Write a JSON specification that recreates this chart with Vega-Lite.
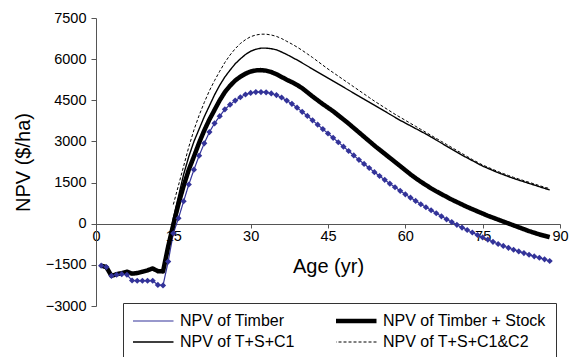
{
"$schema":"https://vega.github.io/schema/vega-lite/v6.json",
"width":464,"height":288,
"autosize":{"type":"none"},
"padding":{"left":96,"top":18,"right":9,"bottom":51},
"background":"white",
"config":{"view":{"stroke":null},"font":"Liberation Sans"},
"data":{"values":[
{"age":1,"series":"NPV of Timber","npv":-1530},{"age":2,"series":"NPV of Timber","npv":-1580},{"age":3,"series":"NPV of Timber","npv":-1900},{"age":4,"series":"NPV of Timber","npv":-1860},{"age":5,"series":"NPV of Timber","npv":-1840},{"age":6,"series":"NPV of Timber","npv":-1860},{"age":7,"series":"NPV of Timber","npv":-2070},{"age":8,"series":"NPV of Timber","npv":-2080},{"age":9,"series":"NPV of Timber","npv":-2080},{"age":10,"series":"NPV of Timber","npv":-2080},{"age":11,"series":"NPV of Timber","npv":-2080},{"age":12,"series":"NPV of Timber","npv":-2230},{"age":13,"series":"NPV of Timber","npv":-2250},{"age":14,"series":"NPV of Timber","npv":-1380},{"age":15,"series":"NPV of Timber","npv":-350},{"age":16,"series":"NPV of Timber","npv":200},{"age":17,"series":"NPV of Timber","npv":820},{"age":18,"series":"NPV of Timber","npv":1430},{"age":19,"series":"NPV of Timber","npv":1970},{"age":20,"series":"NPV of Timber","npv":2480},{"age":21,"series":"NPV of Timber","npv":2930},{"age":22,"series":"NPV of Timber","npv":3340},{"age":23,"series":"NPV of Timber","npv":3660},{"age":24,"series":"NPV of Timber","npv":3920},{"age":25,"series":"NPV of Timber","npv":4170},{"age":26,"series":"NPV of Timber","npv":4340},{"age":27,"series":"NPV of Timber","npv":4490},{"age":28,"series":"NPV of Timber","npv":4610},{"age":29,"series":"NPV of Timber","npv":4710},{"age":30,"series":"NPV of Timber","npv":4770},{"age":31,"series":"NPV of Timber","npv":4800},{"age":32,"series":"NPV of Timber","npv":4800},{"age":33,"series":"NPV of Timber","npv":4790},{"age":34,"series":"NPV of Timber","npv":4750},{"age":35,"series":"NPV of Timber","npv":4690},{"age":36,"series":"NPV of Timber","npv":4600},{"age":37,"series":"NPV of Timber","npv":4490},{"age":38,"series":"NPV of Timber","npv":4370},{"age":39,"series":"NPV of Timber","npv":4230},{"age":40,"series":"NPV of Timber","npv":4080},{"age":41,"series":"NPV of Timber","npv":3930},{"age":42,"series":"NPV of Timber","npv":3770},{"age":43,"series":"NPV of Timber","npv":3610},{"age":44,"series":"NPV of Timber","npv":3450},{"age":45,"series":"NPV of Timber","npv":3290},{"age":46,"series":"NPV of Timber","npv":3130},{"age":47,"series":"NPV of Timber","npv":2970},{"age":48,"series":"NPV of Timber","npv":2810},{"age":49,"series":"NPV of Timber","npv":2650},{"age":50,"series":"NPV of Timber","npv":2490},{"age":51,"series":"NPV of Timber","npv":2330},{"age":52,"series":"NPV of Timber","npv":2180},{"age":53,"series":"NPV of Timber","npv":2030},{"age":54,"series":"NPV of Timber","npv":1880},{"age":55,"series":"NPV of Timber","npv":1740},{"age":56,"series":"NPV of Timber","npv":1600},{"age":57,"series":"NPV of Timber","npv":1460},{"age":58,"series":"NPV of Timber","npv":1330},{"age":59,"series":"NPV of Timber","npv":1200},{"age":60,"series":"NPV of Timber","npv":1070},{"age":61,"series":"NPV of Timber","npv":950},{"age":62,"series":"NPV of Timber","npv":830},{"age":63,"series":"NPV of Timber","npv":710},{"age":64,"series":"NPV of Timber","npv":600},{"age":65,"series":"NPV of Timber","npv":490},{"age":66,"series":"NPV of Timber","npv":380},{"age":67,"series":"NPV of Timber","npv":270},{"age":68,"series":"NPV of Timber","npv":160},{"age":69,"series":"NPV of Timber","npv":60},{"age":70,"series":"NPV of Timber","npv":-40},{"age":71,"series":"NPV of Timber","npv":-140},{"age":72,"series":"NPV of Timber","npv":-230},{"age":73,"series":"NPV of Timber","npv":-320},{"age":74,"series":"NPV of Timber","npv":-410},{"age":75,"series":"NPV of Timber","npv":-500},{"age":76,"series":"NPV of Timber","npv":-580},{"age":77,"series":"NPV of Timber","npv":-660},{"age":78,"series":"NPV of Timber","npv":-740},{"age":79,"series":"NPV of Timber","npv":-810},{"age":80,"series":"NPV of Timber","npv":-880},{"age":81,"series":"NPV of Timber","npv":-950},{"age":82,"series":"NPV of Timber","npv":-1010},{"age":83,"series":"NPV of Timber","npv":-1070},{"age":84,"series":"NPV of Timber","npv":-1130},{"age":85,"series":"NPV of Timber","npv":-1190},{"age":86,"series":"NPV of Timber","npv":-1240},{"age":87,"series":"NPV of Timber","npv":-1300},{"age":88,"series":"NPV of Timber","npv":-1360},
{"age":1,"series":"NPV of Timber + Stock","npv":-1530},{"age":2,"series":"NPV of Timber + Stock","npv":-1580},{"age":3,"series":"NPV of Timber + Stock","npv":-1900},{"age":4,"series":"NPV of Timber + Stock","npv":-1840},{"age":5,"series":"NPV of Timber + Stock","npv":-1800},{"age":6,"series":"NPV of Timber + Stock","npv":-1750},{"age":7,"series":"NPV of Timber + Stock","npv":-1820},{"age":8,"series":"NPV of Timber + Stock","npv":-1800},{"age":9,"series":"NPV of Timber + Stock","npv":-1750},{"age":10,"series":"NPV of Timber + Stock","npv":-1700},{"age":11,"series":"NPV of Timber + Stock","npv":-1630},{"age":12,"series":"NPV of Timber + Stock","npv":-1730},{"age":13,"series":"NPV of Timber + Stock","npv":-1740},{"age":14,"series":"NPV of Timber + Stock","npv":-830},{"age":15,"series":"NPV of Timber + Stock","npv":-30},{"age":16,"series":"NPV of Timber + Stock","npv":720},{"age":17,"series":"NPV of Timber + Stock","npv":1380},{"age":18,"series":"NPV of Timber + Stock","npv":1970},{"age":19,"series":"NPV of Timber + Stock","npv":2450},{"age":20,"series":"NPV of Timber + Stock","npv":2950},{"age":21,"series":"NPV of Timber + Stock","npv":3400},{"age":22,"series":"NPV of Timber + Stock","npv":3800},{"age":23,"series":"NPV of Timber + Stock","npv":4150},{"age":24,"series":"NPV of Timber + Stock","npv":4500},{"age":25,"series":"NPV of Timber + Stock","npv":4800},{"age":26,"series":"NPV of Timber + Stock","npv":5030},{"age":27,"series":"NPV of Timber + Stock","npv":5220},{"age":28,"series":"NPV of Timber + Stock","npv":5360},{"age":29,"series":"NPV of Timber + Stock","npv":5470},{"age":30,"series":"NPV of Timber + Stock","npv":5550},{"age":31,"series":"NPV of Timber + Stock","npv":5590},{"age":32,"series":"NPV of Timber + Stock","npv":5600},{"age":33,"series":"NPV of Timber + Stock","npv":5580},{"age":34,"series":"NPV of Timber + Stock","npv":5530},{"age":35,"series":"NPV of Timber + Stock","npv":5450},{"age":36,"series":"NPV of Timber + Stock","npv":5350},{"age":37,"series":"NPV of Timber + Stock","npv":5250},{"age":38,"series":"NPV of Timber + Stock","npv":5160},{"age":39,"series":"NPV of Timber + Stock","npv":5060},{"age":40,"series":"NPV of Timber + Stock","npv":4940},{"age":41,"series":"NPV of Timber + Stock","npv":4790},{"age":42,"series":"NPV of Timber + Stock","npv":4640},{"age":43,"series":"NPV of Timber + Stock","npv":4500},{"age":44,"series":"NPV of Timber + Stock","npv":4360},{"age":45,"series":"NPV of Timber + Stock","npv":4230},{"age":46,"series":"NPV of Timber + Stock","npv":4100},{"age":47,"series":"NPV of Timber + Stock","npv":3950},{"age":48,"series":"NPV of Timber + Stock","npv":3800},{"age":49,"series":"NPV of Timber + Stock","npv":3650},{"age":50,"series":"NPV of Timber + Stock","npv":3490},{"age":51,"series":"NPV of Timber + Stock","npv":3330},{"age":52,"series":"NPV of Timber + Stock","npv":3170},{"age":53,"series":"NPV of Timber + Stock","npv":3010},{"age":54,"series":"NPV of Timber + Stock","npv":2850},{"age":55,"series":"NPV of Timber + Stock","npv":2700},{"age":56,"series":"NPV of Timber + Stock","npv":2550},{"age":57,"series":"NPV of Timber + Stock","npv":2400},{"age":58,"series":"NPV of Timber + Stock","npv":2250},{"age":59,"series":"NPV of Timber + Stock","npv":2100},{"age":60,"series":"NPV of Timber + Stock","npv":1950},{"age":61,"series":"NPV of Timber + Stock","npv":1800},{"age":62,"series":"NPV of Timber + Stock","npv":1660},{"age":63,"series":"NPV of Timber + Stock","npv":1530},{"age":64,"series":"NPV of Timber + Stock","npv":1410},{"age":65,"series":"NPV of Timber + Stock","npv":1290},{"age":66,"series":"NPV of Timber + Stock","npv":1180},{"age":67,"series":"NPV of Timber + Stock","npv":1080},{"age":68,"series":"NPV of Timber + Stock","npv":980},{"age":69,"series":"NPV of Timber + Stock","npv":880},{"age":70,"series":"NPV of Timber + Stock","npv":790},{"age":71,"series":"NPV of Timber + Stock","npv":700},{"age":72,"series":"NPV of Timber + Stock","npv":610},{"age":73,"series":"NPV of Timber + Stock","npv":530},{"age":74,"series":"NPV of Timber + Stock","npv":450},{"age":75,"series":"NPV of Timber + Stock","npv":370},{"age":76,"series":"NPV of Timber + Stock","npv":290},{"age":77,"series":"NPV of Timber + Stock","npv":220},{"age":78,"series":"NPV of Timber + Stock","npv":150},{"age":79,"series":"NPV of Timber + Stock","npv":80},{"age":80,"series":"NPV of Timber + Stock","npv":10},{"age":81,"series":"NPV of Timber + Stock","npv":-60},{"age":82,"series":"NPV of Timber + Stock","npv":-130},{"age":83,"series":"NPV of Timber + Stock","npv":-200},{"age":84,"series":"NPV of Timber + Stock","npv":-270},{"age":85,"series":"NPV of Timber + Stock","npv":-330},{"age":86,"series":"NPV of Timber + Stock","npv":-390},{"age":87,"series":"NPV of Timber + Stock","npv":-440},{"age":88,"series":"NPV of Timber + Stock","npv":-490},
{"age":14,"series":"NPV of T+S+C1","npv":-830},{"age":15,"series":"NPV of T+S+C1","npv":200},{"age":16,"series":"NPV of T+S+C1","npv":1000},{"age":17,"series":"NPV of T+S+C1","npv":1800},{"age":18,"series":"NPV of T+S+C1","npv":2450},{"age":19,"series":"NPV of T+S+C1","npv":3000},{"age":20,"series":"NPV of T+S+C1","npv":3450},{"age":21,"series":"NPV of T+S+C1","npv":3900},{"age":22,"series":"NPV of T+S+C1","npv":4300},{"age":23,"series":"NPV of T+S+C1","npv":4700},{"age":24,"series":"NPV of T+S+C1","npv":5050},{"age":25,"series":"NPV of T+S+C1","npv":5350},{"age":26,"series":"NPV of T+S+C1","npv":5600},{"age":27,"series":"NPV of T+S+C1","npv":5830},{"age":28,"series":"NPV of T+S+C1","npv":6010},{"age":29,"series":"NPV of T+S+C1","npv":6170},{"age":30,"series":"NPV of T+S+C1","npv":6290},{"age":31,"series":"NPV of T+S+C1","npv":6360},{"age":32,"series":"NPV of T+S+C1","npv":6400},{"age":33,"series":"NPV of T+S+C1","npv":6400},{"age":34,"series":"NPV of T+S+C1","npv":6380},{"age":35,"series":"NPV of T+S+C1","npv":6340},{"age":36,"series":"NPV of T+S+C1","npv":6260},{"age":37,"series":"NPV of T+S+C1","npv":6170},{"age":38,"series":"NPV of T+S+C1","npv":6070},{"age":39,"series":"NPV of T+S+C1","npv":5970},{"age":40,"series":"NPV of T+S+C1","npv":5860},{"age":41,"series":"NPV of T+S+C1","npv":5750},{"age":42,"series":"NPV of T+S+C1","npv":5640},{"age":43,"series":"NPV of T+S+C1","npv":5530},{"age":44,"series":"NPV of T+S+C1","npv":5420},{"age":45,"series":"NPV of T+S+C1","npv":5310},{"age":46,"series":"NPV of T+S+C1","npv":5200},{"age":47,"series":"NPV of T+S+C1","npv":5090},{"age":48,"series":"NPV of T+S+C1","npv":4980},{"age":49,"series":"NPV of T+S+C1","npv":4870},{"age":50,"series":"NPV of T+S+C1","npv":4760},{"age":51,"series":"NPV of T+S+C1","npv":4650},{"age":52,"series":"NPV of T+S+C1","npv":4540},{"age":53,"series":"NPV of T+S+C1","npv":4430},{"age":54,"series":"NPV of T+S+C1","npv":4320},{"age":55,"series":"NPV of T+S+C1","npv":4210},{"age":56,"series":"NPV of T+S+C1","npv":4100},{"age":57,"series":"NPV of T+S+C1","npv":3990},{"age":58,"series":"NPV of T+S+C1","npv":3880},{"age":59,"series":"NPV of T+S+C1","npv":3770},{"age":60,"series":"NPV of T+S+C1","npv":3670},{"age":61,"series":"NPV of T+S+C1","npv":3570},{"age":62,"series":"NPV of T+S+C1","npv":3470},{"age":63,"series":"NPV of T+S+C1","npv":3370},{"age":64,"series":"NPV of T+S+C1","npv":3270},{"age":65,"series":"NPV of T+S+C1","npv":3160},{"age":66,"series":"NPV of T+S+C1","npv":3050},{"age":67,"series":"NPV of T+S+C1","npv":2940},{"age":68,"series":"NPV of T+S+C1","npv":2830},{"age":69,"series":"NPV of T+S+C1","npv":2720},{"age":70,"series":"NPV of T+S+C1","npv":2610},{"age":71,"series":"NPV of T+S+C1","npv":2500},{"age":72,"series":"NPV of T+S+C1","npv":2400},{"age":73,"series":"NPV of T+S+C1","npv":2300},{"age":74,"series":"NPV of T+S+C1","npv":2200},{"age":75,"series":"NPV of T+S+C1","npv":2100},{"age":76,"series":"NPV of T+S+C1","npv":2020},{"age":77,"series":"NPV of T+S+C1","npv":1940},{"age":78,"series":"NPV of T+S+C1","npv":1860},{"age":79,"series":"NPV of T+S+C1","npv":1790},{"age":80,"series":"NPV of T+S+C1","npv":1720},{"age":81,"series":"NPV of T+S+C1","npv":1650},{"age":82,"series":"NPV of T+S+C1","npv":1590},{"age":83,"series":"NPV of T+S+C1","npv":1530},{"age":84,"series":"NPV of T+S+C1","npv":1470},{"age":85,"series":"NPV of T+S+C1","npv":1410},{"age":86,"series":"NPV of T+S+C1","npv":1350},{"age":87,"series":"NPV of T+S+C1","npv":1290},{"age":88,"series":"NPV of T+S+C1","npv":1230},
{"age":15,"series":"NPV of T+S+C1&C2","npv":700},{"age":16,"series":"NPV of T+S+C1&C2","npv":1400},{"age":17,"series":"NPV of T+S+C1&C2","npv":2100},{"age":18,"series":"NPV of T+S+C1&C2","npv":2800},{"age":19,"series":"NPV of T+S+C1&C2","npv":3420},{"age":20,"series":"NPV of T+S+C1&C2","npv":3950},{"age":21,"series":"NPV of T+S+C1&C2","npv":4420},{"age":22,"series":"NPV of T+S+C1&C2","npv":4850},{"age":23,"series":"NPV of T+S+C1&C2","npv":5220},{"age":24,"series":"NPV of T+S+C1&C2","npv":5560},{"age":25,"series":"NPV of T+S+C1&C2","npv":5880},{"age":26,"series":"NPV of T+S+C1&C2","npv":6150},{"age":27,"series":"NPV of T+S+C1&C2","npv":6380},{"age":28,"series":"NPV of T+S+C1&C2","npv":6570},{"age":29,"series":"NPV of T+S+C1&C2","npv":6710},{"age":30,"series":"NPV of T+S+C1&C2","npv":6820},{"age":31,"series":"NPV of T+S+C1&C2","npv":6880},{"age":32,"series":"NPV of T+S+C1&C2","npv":6910},{"age":33,"series":"NPV of T+S+C1&C2","npv":6910},{"age":34,"series":"NPV of T+S+C1&C2","npv":6880},{"age":35,"series":"NPV of T+S+C1&C2","npv":6830},{"age":36,"series":"NPV of T+S+C1&C2","npv":6750},{"age":37,"series":"NPV of T+S+C1&C2","npv":6650},{"age":38,"series":"NPV of T+S+C1&C2","npv":6550},{"age":39,"series":"NPV of T+S+C1&C2","npv":6440},{"age":40,"series":"NPV of T+S+C1&C2","npv":6320},{"age":41,"series":"NPV of T+S+C1&C2","npv":6190},{"age":42,"series":"NPV of T+S+C1&C2","npv":6060},{"age":43,"series":"NPV of T+S+C1&C2","npv":5920},{"age":44,"series":"NPV of T+S+C1&C2","npv":5780},{"age":45,"series":"NPV of T+S+C1&C2","npv":5640},{"age":46,"series":"NPV of T+S+C1&C2","npv":5510},{"age":47,"series":"NPV of T+S+C1&C2","npv":5380},{"age":48,"series":"NPV of T+S+C1&C2","npv":5250},{"age":49,"series":"NPV of T+S+C1&C2","npv":5120},{"age":50,"series":"NPV of T+S+C1&C2","npv":4990},{"age":51,"series":"NPV of T+S+C1&C2","npv":4860},{"age":52,"series":"NPV of T+S+C1&C2","npv":4730},{"age":53,"series":"NPV of T+S+C1&C2","npv":4600},{"age":54,"series":"NPV of T+S+C1&C2","npv":4470},{"age":55,"series":"NPV of T+S+C1&C2","npv":4350},{"age":56,"series":"NPV of T+S+C1&C2","npv":4230},{"age":57,"series":"NPV of T+S+C1&C2","npv":4110},{"age":58,"series":"NPV of T+S+C1&C2","npv":3990},{"age":59,"series":"NPV of T+S+C1&C2","npv":3880},{"age":60,"series":"NPV of T+S+C1&C2","npv":3770},{"age":61,"series":"NPV of T+S+C1&C2","npv":3660},{"age":62,"series":"NPV of T+S+C1&C2","npv":3550},{"age":63,"series":"NPV of T+S+C1&C2","npv":3440},{"age":64,"series":"NPV of T+S+C1&C2","npv":3330},{"age":65,"series":"NPV of T+S+C1&C2","npv":3220},{"age":66,"series":"NPV of T+S+C1&C2","npv":3110},{"age":67,"series":"NPV of T+S+C1&C2","npv":3000},{"age":68,"series":"NPV of T+S+C1&C2","npv":2890},{"age":69,"series":"NPV of T+S+C1&C2","npv":2780},{"age":70,"series":"NPV of T+S+C1&C2","npv":2670},{"age":71,"series":"NPV of T+S+C1&C2","npv":2560},{"age":72,"series":"NPV of T+S+C1&C2","npv":2450},{"age":73,"series":"NPV of T+S+C1&C2","npv":2340},{"age":74,"series":"NPV of T+S+C1&C2","npv":2240},{"age":75,"series":"NPV of T+S+C1&C2","npv":2140},{"age":76,"series":"NPV of T+S+C1&C2","npv":2060},{"age":77,"series":"NPV of T+S+C1&C2","npv":1980},{"age":78,"series":"NPV of T+S+C1&C2","npv":1900},{"age":79,"series":"NPV of T+S+C1&C2","npv":1830},{"age":80,"series":"NPV of T+S+C1&C2","npv":1760},{"age":81,"series":"NPV of T+S+C1&C2","npv":1690},{"age":82,"series":"NPV of T+S+C1&C2","npv":1630},{"age":83,"series":"NPV of T+S+C1&C2","npv":1570},{"age":84,"series":"NPV of T+S+C1&C2","npv":1510},{"age":85,"series":"NPV of T+S+C1&C2","npv":1450},{"age":86,"series":"NPV of T+S+C1&C2","npv":1390},{"age":87,"series":"NPV of T+S+C1&C2","npv":1330},{"age":88,"series":"NPV of T+S+C1&C2","npv":1280}
]},
"encoding":{
 "x":{"field":"age","type":"quantitative","scale":{"domain":[0,90],"nice":false},
  "axis":{"values":[0,15,30,45,60,75,90],"format":"d","offset":-82,"grid":false,"domainColor":"#555","tickColor":"#555","tickSize":4,"labelFontSize":14.5,"labelColor":"black","labelPadding":1,"labelFlush":false,"labelOverlap":false,"title":"Age (yr)","titleFontSize":20,"titleFontWeight":"normal","titleColor":"black","titlePadding":14}},
 "y":{"field":"npv","type":"quantitative","scale":{"domain":[-3000,7500],"nice":false},
  "axis":{"values":[-3000,-1500,0,1500,3000,4500,6000,7500],"format":"d","grid":false,"domainColor":"#555","tickColor":"#555","tickSize":5,"labelFontSize":14.5,"labelColor":"black","labelPadding":5,"labelFlush":false,"labelOverlap":false,"title":"NPV ($/ha)","titleFontSize":20,"titleFontWeight":"normal","titleColor":"black","titlePadding":12}}
},
"layer":[
 {"mark":{"type":"line","strokeJoin":"round"},
  "encoding":{
   "color":{"field":"series","type":"nominal","scale":{"domain":["NPV of Timber","NPV of Timber + Stock","NPV of T+S+C1","NPV of T+S+C1&C2"],"range":["#333399","#000000","#000000","#000000"]},
     "legend":{"title":null,"orient":"none","direction":"horizontal","legendX":27,"legendY":285,"columns":2,"symbolType":"stroke","symbolSize":1849,"clipHeight":16,"labelFontSize":16,"labelColor":"black","labelOffset":4,"symbolOffset":-5,"columnPadding":41,"rowPadding":5,"padding":10,"strokeColor":"#333","fillColor":"white","labelLimit":300}},
   "strokeWidth":{"field":"series","type":"nominal","scale":{"type":"ordinal","domain":["NPV of Timber","NPV of Timber + Stock","NPV of T+S+C1","NPV of T+S+C1&C2"],"range":[1.2,4.5,1.4,1]}},
   "strokeDash":{"field":"series","type":"nominal","scale":{"domain":["NPV of Timber","NPV of Timber + Stock","NPV of T+S+C1","NPV of T+S+C1&C2"],"range":[[1,0],[1,0],[1,0],[3,2]]}}
  }},
 {"transform":[{"filter":"datum.series === 'NPV of Timber'"}],
  "mark":{"type":"point","shape":"diamond","filled":true,"size":38,"color":"#333399","opacity":1}}
]
}
